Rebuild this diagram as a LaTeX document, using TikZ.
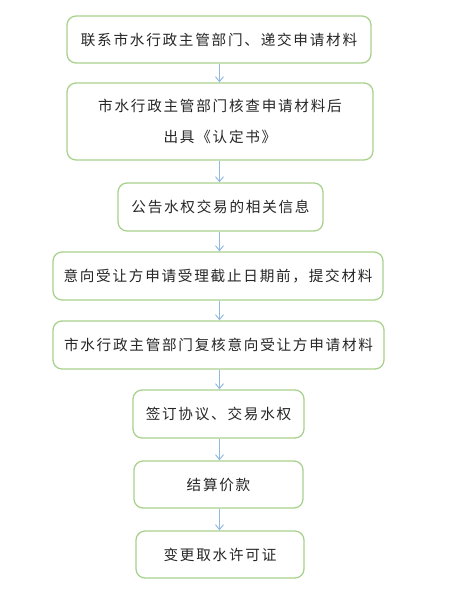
\documentclass[tikz,border=0pt]{standalone}
\usepackage{fontspec}
\newfontfamily\cjk[LetterSpace=12]{Noto Sans CJK SC}
\usetikzlibrary{arrows.meta}
\definecolor{boxgreen}{HTML}{A9D18E}
\definecolor{arrowblue}{HTML}{8FB8E3}
\definecolor{txt}{HTML}{262626}
\begin{document}
\begin{tikzpicture}[x=1pt,y=-1pt,
  stepbox/.style={draw=boxgreen,line width=1.3pt,rounded corners=9pt,fill=white,
    align=center,inner sep=0pt,text=txt,font=\cjk\fontsize{14.6}{31}\selectfont},
  flow/.style={draw=arrowblue,line width=0.9pt,-{Straight Barb[length=5pt,width=8pt]}}]
\useasboundingbox (0,0) rectangle (448,600);
\node[stepbox,minimum width=304pt,minimum height=47pt] (b1) at (219,39.5) {联系市水行政主管部门、递交申请材料};
\node[stepbox,minimum width=306pt,minimum height=77pt] (b2) at (220,121.5) {市水行政主管部门核查申请材料后\\出具《认定书》};
\node[stepbox,minimum width=205pt,minimum height=48pt] (b3) at (220.5,207) {公告水权交易的相关信息};
\node[stepbox,minimum width=330pt,minimum height=48pt] (b4) at (218,276) {意向受让方申请受理截止日期前，提交材料};
\node[stepbox,minimum width=331pt,minimum height=48pt] (b5) at (218.5,345) {市水行政主管部门复核意向受让方申请材料};
\node[stepbox,minimum width=171pt,minimum height=48pt] (b6) at (218.5,414) {签订协议、交易水权};
\node[stepbox,minimum width=169pt,minimum height=47pt] (b7) at (218.5,484.5) {结算价款};
\node[stepbox,minimum width=168pt,minimum height=47pt] (b8) at (220,554.5) {变更取水许可证};
\foreach \a/\b in {b1/b2,b2/b3,b3/b4,b4/b5,b5/b6,b6/b7,b7/b8}{
  \draw[flow] (219.5,0 |- \a.south) -- (219.5,0 |- \b.north);
}
\end{tikzpicture}
\end{document}
